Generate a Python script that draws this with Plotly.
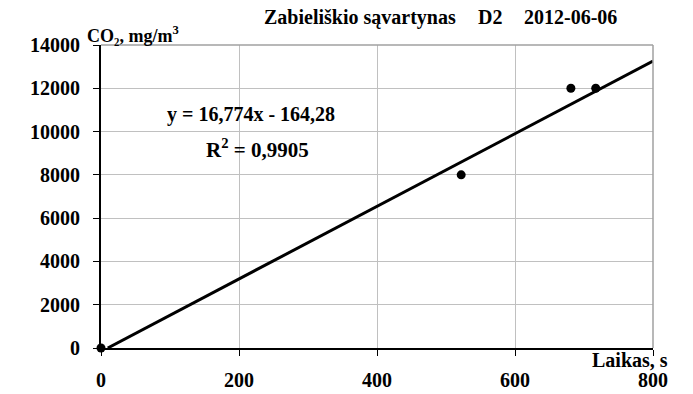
import plotly.graph_objects as go

time_s = [0, 522, 681, 717]
co2 = [0, 8000, 12000, 12000]
slope = 16.774
intercept = -164.28
r2_text = "0,9905"
eq_text = "y = 16,774x - 164,28"
x_ticks = [0, 200, 400, 600, 800]
y_ticks = [0, 2000, 4000, 6000, 8000, 10000, 12000, 14000]
title_parts = ["Zabieliškio sąvartynas", "D2", "2012-06-06"]
title_centers_px = [360, 490, 570]

FONT = "Liberation Serif, Times New Roman, serif"
NB = "\u00a0"

x0 = -intercept / slope
x1 = 800
fig = go.Figure()
fig.add_trace(go.Scatter(x=[x0, x1], y=[slope * x0 + intercept, slope * x1 + intercept],
                         mode="lines", line=dict(color="black", width=3), showlegend=False,
                         cliponaxis=False, hoverinfo="skip"))
fig.add_trace(go.Scatter(x=time_s, y=co2, mode="markers",
                         marker=dict(color="black", size=9), showlegend=False, cliponaxis=False))

def px_to_paper(px):
    return (px - 101) / 552

annotations = [
    dict(text=t, xref="paper", yref="paper", x=px_to_paper(c), y=1.0,
         yshift=28, showarrow=False, xanchor="center", yanchor="middle", font=dict(size=20))
    for t, c in zip(title_parts, title_centers_px)
]
annotations += [
    dict(text="CO₂, mg/m<sup>3</sup>", xref="paper", yref="paper", x=0, y=1.0,
         xshift=-16, yshift=11, showarrow=False, xanchor="left", yanchor="middle",
         font=dict(size=18)),
    dict(text="Laikas, s", xref="paper", yref="paper", x=1.0, y=0, xshift=17, yshift=-12,
         showarrow=False, xanchor="right", yanchor="middle", font=dict(size=20)),
    dict(text=eq_text, x=217, y=10770, showarrow=False, xanchor="center", yanchor="middle",
         font=dict(size=20)),
    dict(text="R<sup>2</sup>" + NB + "=" + NB + r2_text, x=227, y=9240, showarrow=False,
         xanchor="center", yanchor="middle", font=dict(size=21)),
]

fig.update_layout(
    width=693, height=394,
    margin=dict(l=101, r=40, t=45, b=46),
    paper_bgcolor="white", plot_bgcolor="white",
    font=dict(family=FONT, size=18, color="black", weight="bold"),
    xaxis=dict(range=[0, 800], tickvals=x_ticks, showgrid=True, gridcolor="#c0c0c0", gridwidth=1,
               showline=True, linecolor="black", linewidth=2, ticks="outside", ticklen=6,
               tickcolor="black", tickwidth=1, zeroline=False, ticklabelstandoff=7,
               automargin=False, tickformat="d",
               tickfont=dict(family=FONT, size=20, weight="bold")),
    yaxis=dict(range=[0, 14000], tickvals=y_ticks, showgrid=True, gridcolor="#c0c0c0", gridwidth=1,
               showline=True, linecolor="black", linewidth=2, ticks="outside", ticklen=6,
               tickcolor="black", tickwidth=1, zeroline=False, ticklabelstandoff=9,
               automargin=False, tickformat="d",
               tickfont=dict(family=FONT, size=20, weight="bold")),
    shapes=[
        dict(type="line", xref="paper", yref="paper", x0=0, y0=1, x1=1, y1=1,
             line=dict(color="#a0a0a0", width=1.5), layer="above"),
        dict(type="line", xref="paper", yref="paper", x0=1, y0=0, x1=1, y1=1,
             line=dict(color="#a0a0a0", width=1.5), layer="above"),
    ],
    annotations=annotations,
)
fig.write_html("out.html", config={"displayModeBar": False},
               post_script="document.body.style.margin='0';")
